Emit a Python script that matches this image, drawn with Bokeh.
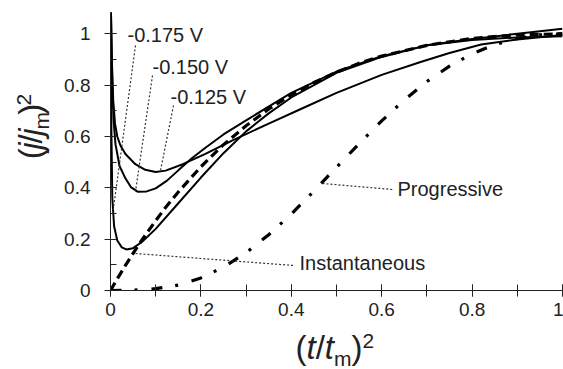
import math
from bokeh.plotting import figure
from bokeh.layouts import row, column
from bokeh.models import Label, Range1d, SingleIntervalTicker, NumeralTickFormatter
from bokeh.embed import file_html
from bokeh.resources import INLINE

# ---- data ----
inst_x = [0, 0.01, 0.02, 0.03, 0.05, 0.07, 0.1, 0.12, 0.15, 0.2, 0.25, 0.3, 0.35, 0.4, 0.45, 0.5, 0.55, 0.6, 0.7, 0.8, 0.9, 1.0]
inst_y = [0, 0.031, 0.060, 0.089, 0.145, 0.198, 0.272, 0.319, 0.384, 0.482, 0.568, 0.642, 0.707, 0.762, 0.810, 0.850, 0.885, 0.913, 0.955, 0.982, 0.996, 1.0]

prog_x = [0, 0.05, 0.1, 0.15, 0.2, 0.25, 0.3, 0.35, 0.4, 0.45, 0.5, 0.55, 0.6, 0.65, 0.7, 0.75, 0.8, 0.85, 0.9, 0.95, 1.0]
prog_y = [0, 0.001, 0.007, 0.021, 0.049, 0.091, 0.147, 0.217, 0.298, 0.387, 0.480, 0.572, 0.661, 0.742, 0.814, 0.874, 0.922, 0.958, 0.982, 0.996, 1.0]

v175_x = [0.001, 0.002, 0.004, 0.008, 0.015, 0.025, 0.035, 0.05, 0.07, 0.1, 0.15, 0.2, 0.25, 0.3, 0.35, 0.4, 0.5, 0.6, 0.7, 0.8, 0.9, 1.0]
v175_y = [1.09, 0.62, 0.36, 0.25, 0.195, 0.168, 0.160, 0.165, 0.190, 0.240, 0.340, 0.440, 0.535, 0.620, 0.690, 0.752, 0.848, 0.910, 0.955, 0.980, 1.000, 1.020]

v150_x = [0.001, 0.002, 0.004, 0.007, 0.011, 0.02, 0.033, 0.045, 0.06, 0.08, 0.1, 0.125, 0.15, 0.18, 0.21, 0.25, 0.3, 0.4, 0.5, 0.6, 0.7, 0.8, 0.9, 1.0]
v150_y = [1.09, 0.98, 0.80, 0.66, 0.57, 0.485, 0.437, 0.403, 0.385, 0.386, 0.398, 0.428, 0.468, 0.515, 0.556, 0.608, 0.663, 0.770, 0.853, 0.913, 0.955, 0.976, 0.986, 0.990]

v125_x = [0.001, 0.003, 0.006, 0.01, 0.015, 0.022, 0.033, 0.055, 0.077, 0.1, 0.122, 0.16, 0.21, 0.27, 0.35, 0.42, 0.5, 0.6, 0.686, 0.75, 0.82, 0.9, 1.0]
v125_y = [1.09, 0.90, 0.74, 0.65, 0.60, 0.565, 0.532, 0.492, 0.470, 0.462, 0.467, 0.492, 0.532, 0.585, 0.650, 0.706, 0.770, 0.840, 0.890, 0.925, 0.958, 0.978, 0.995]

curve_labels = ["-0.175 V", "-0.150 V", "-0.125 V"]

# ---- layout constants (pixels) ----
W, H = 563, 369
YW = 54                      # width of the strip holding the y title
XH = 41                      # height of the strip holding the x title
MW, MH = W - YW, H - XH      # main figure size
L, R, T, B = 110 - YW, 1, 12, 38
XMAX, YMAX = 1.0, 1.083
FONT = "Liberation Sans"
INK = "#222222"
fw = MW - L - R
fh = MH - T - B


def dx(px):
    return (px - 110) / fw * XMAX


def dy(py):
    return (T + fh - py) / fh * YMAX


def strip(width, height):
    f = figure(width=width, height=height, x_range=Range1d(0, width), y_range=Range1d(0, height),
               output_backend="svg", toolbar_location=None, min_border=0,
               x_axis_location=None, y_axis_location=None)
    f.outline_line_color = None
    f.background_fill_color = "white"
    f.border_fill_color = "white"
    f.xgrid.visible = False
    f.ygrid.visible = False
    return f


p = figure(width=MW, height=MH, x_range=Range1d(0, XMAX), y_range=Range1d(0, YMAX),
           output_backend="svg", toolbar_location=None,
           min_border_left=L, min_border_right=R, min_border_top=T, min_border_bottom=B)
p.outline_line_color = None
p.xgrid.visible = False
p.ygrid.visible = False
p.background_fill_color = "white"
p.border_fill_color = "white"

for ax in (p.xaxis[0], p.yaxis[0]):
    ax.axis_line_color = INK
    ax.major_tick_line_color = INK
    ax.minor_tick_line_color = INK
    ax.major_label_text_font = FONT
    ax.major_label_text_font_size = "19px"
    ax.major_label_text_color = INK
    ax.formatter = NumeralTickFormatter(format="0.[0]")
    ax.ticker = SingleIntervalTicker(interval=0.2, num_minor_ticks=2)
    ax.major_tick_in = 6
    ax.major_tick_out = 6

p.xaxis[0].minor_tick_in = 6
p.xaxis[0].minor_tick_out = 6
p.xaxis[0].major_label_standoff = 6
p.yaxis[0].minor_tick_in = 6
p.yaxis[0].minor_tick_out = 0
p.yaxis[0].major_label_standoff = 14

# curves
p.line(inst_x, inst_y, line_color="black", line_width=3.2, line_dash="9 5")
p.line(prog_x, prog_y, line_color="black", line_width=3.2, line_dash="11 13 3 14")
for xs, ys in ((v175_x, v175_y), (v150_x, v150_y), (v125_x, v125_y)):
    p.line(xs, ys, line_color="black", line_width=2)

# leader lines (pixel end points on the page)
leaders = [((135, 45), (112, 215)), ((152, 75), (135, 191)), ((173, 105), (160, 170)),
           ((322, 183), (392, 189)), ((135, 253), (293, 265))]
for (x0, y0), (x1, y1) in leaders:
    p.line([dx(x0), dx(x1)], [dy(y0), dy(y1)], line_color="#333333", line_width=1.2, line_dash="2 2")

# annotation texts (left, vertical centre of capitals, in page pixels)
texts = [(curve_labels[0], 127, 34), (curve_labels[1], 152, 66), (curve_labels[2], 170, 96),
         ("Progressive", 397, 188.5), ("Instantaneous", 299, 262)]
for t, x, y in texts:
    p.add_layout(Label(x=dx(x), y=dy(y), text=t, text_font=FONT, text_font_size="20px",
                       text_color=INK, text_baseline="middle", text_align="left"))

# ---- axis titles built from pieces ----
F = 33
S = round(F * 0.65)
wid = {"(": 0.333, ")": 0.333, "/": 0.278, "t": 0.278, "j": 0.222, "m": 0.833, "2": 0.556}
MID = 0.358  # centre of capitals above the baseline, in em


def pieces(chars):
    out = []
    for ch, kind in chars:
        size = F if kind in ("n", "i") else S
        shift = 0.0
        if kind == "sub":
            shift = 0.21 * F
        elif kind == "sup":
            shift = -0.33 * F
        out.append((ch, kind, size, shift, wid[ch] * size))
    return out


def piece_label(ch, kind, size, x, y, angle=0.0):
    return Label(x=x, y=y, text=ch, text_font=FONT, angle=angle,
                 text_font_size=f"{size}px", text_color=INK,
                 text_font_style="italic" if kind == "i" else "normal",
                 text_baseline="middle", text_align="left")


xs_fig = strip(W, XH)
xt = pieces([("(", "n"), ("t", "i"), ("/", "n"), ("t", "i"), ("m", "sub"), (")", "n"), ("2", "sup")])
cx, base = 295, 359  # page pixels: left edge, baseline
for ch, kind, size, shift, w in xt:
    mid_py = base + shift - MID * size
    xs_fig.add_layout(piece_label(ch, kind, size, cx, H - mid_py))
    cx += w

ys_fig = strip(YW, MH)
yt = pieces([("(", "n"), ("j", "i"), ("/", "n"), ("j", "i"), ("m", "sub"), (")", "n"), ("2", "sup")])
cy, basex = 173, 42  # page pixels: bottom start, baseline x
for ch, kind, size, shift, w in yt:
    mid_px = basex + shift - MID * size
    ys_fig.add_layout(piece_label(ch, kind, size, mid_px, MH - cy, angle=math.pi / 2))
    cy -= w

page = column(row(ys_fig, p, spacing=0), xs_fig, spacing=0)
open("out.html", "w").write(file_html(page, INLINE))
